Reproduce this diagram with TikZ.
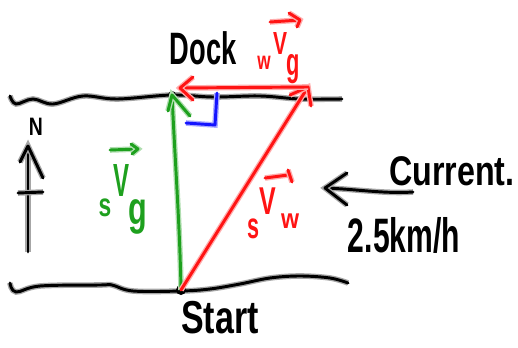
\documentclass[tikz,border=0pt]{standalone}
\usepackage{fontspec}
\setmainfont{Liberation Sans}
\usepackage{graphicx}
\definecolor{mygreen}{RGB}{30,160,30}
\definecolor{myred}{RGB}{255,20,20}
\definecolor{myblue}{RGB}{20,20,255}
\newcommand{\hw}[3]{\resizebox*{#1pt}{#2pt}{#3}}
\tikzset{
  ink/.style={line width=2.2pt, line cap=round, line join=round, draw=#1,
    preaction={draw=#1!35, line width=4.2pt}},
  ink/.default=black,
  lbl/.style={inner sep=0pt, outer sep=0pt, anchor=center, font=\bfseries},
  dotnode/.style={circle, fill=black, inner sep=0pt, minimum size=#1},
}
\begin{document}
\begin{tikzpicture}[x=0.75pt,y=-0.75pt]
\useasboundingbox (0,0) rectangle (518,347);
% shore lines
\draw[ink] plot[smooth, tension=0.6] coordinates {(10,96) (16,104) (33,99) (53,104) (83,96) (117,99) (172,95) (213,97) (260,96) (300,99) (342,99)};
\draw[ink] plot[smooth, tension=0.6] coordinates {(10,283) (16,292) (40,286) (100,285) (112,285) (133,291) (181,291) (210,289) (240,284) (270,278) (300,276) (330,278) (348,283)};
% points
\node[dotnode=6pt] (dockpt) at (172,95) {};
\node[dotnode=7.5pt] (startpt) at (181,290) {};
\coordinate (wtip) at (308,87);
\coordinate (wleft) at (180,88);
% green vector
\draw[ink=mygreen] (startpt.center) .. controls (180,230) and (175,160) .. (dockpt.center);
\draw[ink=mygreen] (168,111) -- (dockpt.center) -- (190,116);
% red hypotenuse
\draw[ink=myred] (startpt.center) -- (wtip);
\draw[ink=myred] (290,95) -- (wtip) -- (311,106);
% red horizontal
\draw[ink=myred] (wtip) -- (wleft);
\draw[ink=myred] (193,77) -- (wleft) -- (193,100);
% right angle
\draw[ink=myblue] (217,93) -- (215,125) -- (186,123);
% north arrow
\coordinate (ntip) at (28,146);
\coordinate (nbase) at (28,252);
\draw[ink] (nbase) -- (ntip);
\draw[ink] (20,162) -- (ntip) -- (43,178);
\draw[ink] (18,193) -- (43,192);
\node[lbl] (nlabel) at (36,127) {\hw{10.5}{13}{N}};
% current arrow
\coordinate (ctail) at (413,192);
\coordinate (ctip) at (325,188);
\draw[ink] (ctail) .. controls (385,194) and (355,189) .. (ctip);
\draw[ink] (347,173) -- (ctip) -- (347,205);
\node[lbl] (current) at (452,171) {\hw{94}{22}{Current.}};
\node[lbl] (speed) at (404,235) {\hw{84}{27}{2.5km/h}};
% place labels
\node[lbl] (dock) at (203,48) {\hw{50}{25}{Dock}};
\node[lbl] (start) at (220,318) {\hw{58}{24.5}{Start}};
% green label sVg
\node[lbl, text=mygreen] (gs) at (105,208) {\hw{9.5}{13.5}{s}};
\node[lbl, text=mygreen] (gV) at (121,180) {\hw{12}{24}{V}};
\node[lbl, text=mygreen] (gg) at (138,217) {\hw{14}{26}{g}};
\coordinate (ga1) at (110,150);
\coordinate (ga2) at (138,149);
\draw[ink=mygreen] (ga1) -- (ga2);
\draw[ink=mygreen] (131,144) -- (ga2) -- (132,154);
% red label wVg
\node[lbl, text=myred] (ws) at (264,63) {\hw{10}{10}{w}};
\node[lbl, text=myred] (wV) at (280,43) {\hw{10.5}{16.5}{V}};
\node[lbl, text=myred] (wg) at (293,69) {\hw{10}{22}{g}};
\coordinate (wa1) at (270,22);
\coordinate (wa2) at (300,20);
\draw[ink=myred] (wa1) -- (wa2);
\draw[ink=myred] (289,13) -- (wa2) -- (297,27);
% red label sVw
\node[lbl, text=myred] (rs) at (253,229) {\hw{9}{15}{s}};
\node[lbl, text=myred] (rV) at (268,201) {\hw{12.5}{20}{V}};
\node[lbl, text=myred] (rw) at (290,221) {\hw{13.5}{11}{w}};
\coordinate (ra1) at (265,178);
\coordinate (ra2) at (288,175);
\draw[ink=myred] (ra1) -- (ra2);
\draw[ink=myred] (288,170) -- (292,182);
\end{tikzpicture}
\end{document}
